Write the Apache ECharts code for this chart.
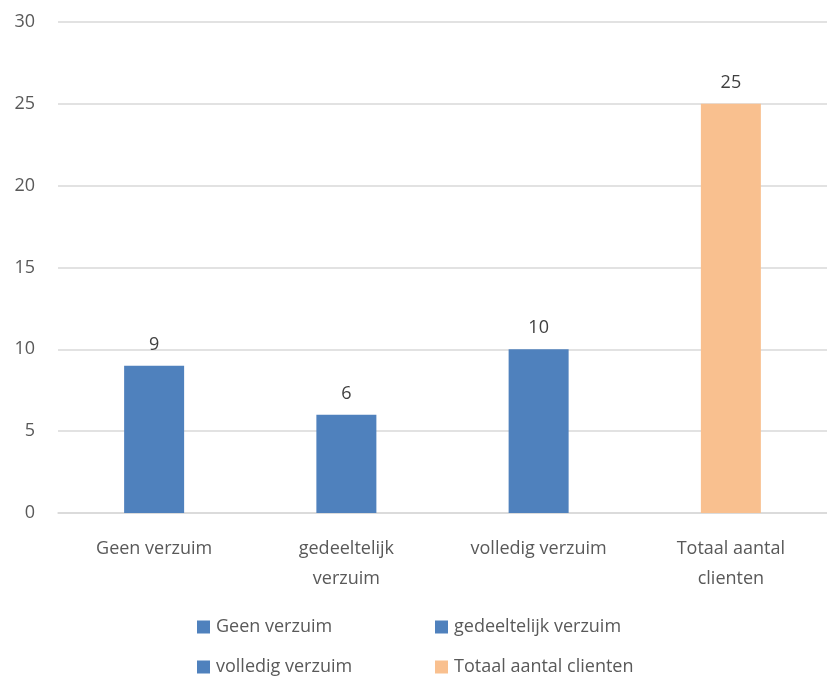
<!DOCTYPE html>
<html>
<head>
<meta charset="utf-8">
<script src="https://cdn.jsdelivr.net/npm/echarts@6/dist/echarts.min.js"></script>
<style>
html, body { margin: 0; padding: 0; background: #fff; }
#main { width: 827px; height: 684px; }
</style>
</head>
<body>
<div id="main"></div>
<script>
// categorieen en waarden
var categories = ['Geen verzuim', 'gedeeltelijk\nverzuim', 'volledig verzuim', 'Totaal aantal\nclienten'];
var seriesNames = ['Geen verzuim', 'gedeeltelijk verzuim', 'volledig verzuim', 'Totaal aantal clienten'];
var values = [9, 6, 10, 25];
var colors = ['#4F81BD', '#4F81BD', '#4F81BD', '#F9C08F'];
var yTicks = [0, 5, 10, 15, 20, 25, 30];

var chart = echarts.init(document.getElementById('main'));
var font = '"Open Sans", "DejaVu Sans", sans-serif';

// elke serie alleen op eigen categorie, gestapeld zodat ze gecentreerd staan
var series = seriesNames.map(function (name, i) {
    return {
        name: name,
        type: 'bar',
        stack: 'alles',
        barWidth: 60,
        itemStyle: { color: colors[i] },
        label: {
            show: true,
            position: 'top',
            distance: 12,
            color: '#404040',
            fontSize: 18,
            fontFamily: font
        },
        data: values.map(function (v, j) { return j === i ? v : '-'; })
    };
});

// legenda: elk item los geplaatst (2 kolommen, 2 rijen)
var legendPos = [[197, 618], [435, 618], [197, 658], [435, 658]];
var legends = seriesNames.map(function (name, i) {
    return {
        left: legendPos[i][0],
        top: legendPos[i][1],
        padding: 0,
        itemWidth: 13,
        itemHeight: 13,
        itemGap: 0,
        icon: 'rect',
        data: [name],
        textStyle: { color: '#595959', fontSize: 18, fontFamily: font, padding: [0, 0, 0, 1] }
    };
});

var option = {
    backgroundColor: '#fff',
    animation: false,
    grid: { left: 58, right: -5, top: 22, bottom: 171 },
    legend: legends,
    xAxis: {
        type: 'category',
        data: categories,
        axisLine: { lineStyle: { color: '#d9d9d9', width: 1.5 } },
        axisTick: { show: false },
        axisLabel: {
            color: '#595959',
            fontSize: 18,
            fontFamily: font,
            margin: 21,
            lineHeight: 30,
            interval: 0
        }
    },
    yAxis: {
        type: 'value',
        min: yTicks[0],
        max: yTicks[yTicks.length - 1],
        interval: 5,
        axisLine: { show: false },
        axisTick: { show: false },
        splitLine: { lineStyle: { color: '#d9d9d9', width: 1.5 } },
        axisLabel: {
            color: '#595959',
            fontSize: 18,
            fontFamily: font,
            margin: 23
        }
    },
    series: series
};
chart.setOption(option);
</script>
</body>
</html>
